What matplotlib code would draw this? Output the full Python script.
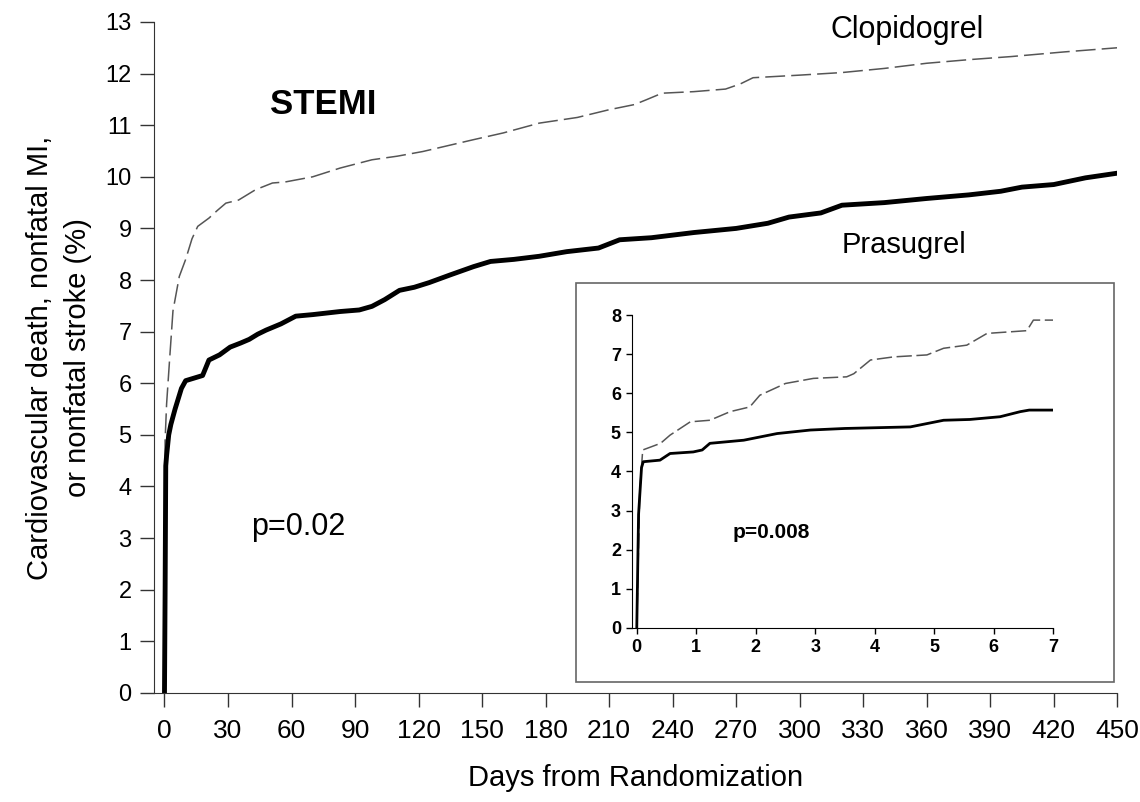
import matplotlib.pyplot as plt
from matplotlib.patches import Rectangle

plt.rcParams['font.family'] = ['Liberation Sans', 'DejaVu Sans']

# -------------------------------------------------
# Main panel data (days, %)
# -------------------------------------------------
pras_days = [0, 0.3, 0.6, 1, 2, 3, 5, 8, 10, 14, 18, 21, 26, 31, 36, 40, 44, 48, 55, 62,
             70, 83, 92, 98, 104, 111, 118, 125, 135, 146, 154, 165, 177, 190, 205, 215,
             230, 250, 270, 285, 295, 310, 320, 340, 360, 380, 395, 405, 420, 435, 450]
pras_vals = [0, 2.0, 4.4, 4.6, 5.0, 5.2, 5.5, 5.9, 6.05, 6.1, 6.15, 6.45, 6.55, 6.7, 6.78,
             6.85, 6.95, 7.03, 7.15, 7.3, 7.33, 7.39, 7.42, 7.49, 7.62, 7.8, 7.86, 7.95,
             8.1, 8.26, 8.36, 8.4, 8.46, 8.55, 8.62, 8.78, 8.82, 8.92, 9.0, 9.1, 9.22, 9.3,
             9.45, 9.5, 9.58, 9.65, 9.72, 9.8, 9.85, 9.98, 10.07]

clop_days = [0, 0.3, 1, 2.4, 4, 7, 10, 13, 15.7, 21, 25, 29, 35, 43, 51, 57, 70, 83,
             98, 110, 122, 146, 160, 177, 195, 210, 222, 228, 235, 250, 265, 272, 278,
             300, 320, 340, 360, 380, 400, 425, 450]
clop_vals = [0, 4.9, 5.6, 6.45, 7.4, 8.07, 8.4, 8.8, 9.04, 9.2, 9.35, 9.49, 9.55, 9.75,
             9.88, 9.9, 10.0, 10.17, 10.33, 10.4, 10.49, 10.72, 10.85, 11.04, 11.15,
             11.3, 11.4, 11.5, 11.62, 11.65, 11.7, 11.8, 11.92, 11.97, 12.02, 12.1,
             12.2, 12.27, 12.33, 12.42, 12.5]

# -------------------------------------------------
# Inset data (first 7 days, %)
# -------------------------------------------------
ins_pras_days = [0, 0.03, 0.08, 0.11, 0.39, 0.56, 0.95, 1.1, 1.23, 1.8, 2.36, 2.92,
                 3.5, 4.6, 5.16, 5.6, 6.11, 6.45, 6.6, 7.0]
ins_pras_vals = [0, 2.9, 4.1, 4.25, 4.29, 4.46, 4.5, 4.55, 4.72, 4.8, 4.97, 5.06,
                 5.1, 5.14, 5.31, 5.33, 5.4, 5.53, 5.57, 5.57]

ins_clop_days = [0, 0.05, 0.1, 0.4, 0.56, 0.9, 1.23, 1.57, 1.9, 2.07, 2.5, 2.97, 3.53,
                 3.65, 3.93, 4.32, 4.88, 5.16, 5.55, 5.89, 6.56, 6.67, 7.0]
ins_clop_vals = [0, 3.5, 4.55, 4.72, 4.93, 5.27, 5.31, 5.53, 5.65, 5.95, 6.25, 6.38,
                 6.42, 6.5, 6.85, 6.93, 6.98, 7.15, 7.23, 7.53, 7.6, 7.87, 7.87]

x_ticks = list(range(0, 451, 30))
y_ticks = list(range(0, 14))
ins_x_ticks = list(range(0, 8))
ins_y_ticks = list(range(0, 9))

fig = plt.figure(figsize=(11.4, 8.02), dpi=100)
ax = fig.add_axes([0.135, 0.136, 0.845, 0.8366])

ax.plot(clop_days, clop_vals, color='#555555', lw=1.1, linestyle=(0, (13, 4)))
ax.plot(pras_days, pras_vals, color='black', lw=3.5, solid_joinstyle='round')

ax.set_xlim(-5, 450)
ax.set_ylim(0, 13)
ax.set_xticks(x_ticks)
ax.set_yticks(y_ticks)
ax.tick_params(direction='out', length=10, width=1, color='#333333')
ax.tick_params(axis='x', labelsize=19, pad=9)
ax.tick_params(axis='y', labelsize=17, pad=6)
for s in ['top', 'right']:
    ax.spines[s].set_visible(False)
for s in ['left', 'bottom']:
    ax.spines[s].set_color('#333333')
ax.set_xlabel('Days from Randomization', fontsize=21, labelpad=15)
ax.set_ylabel('Cardiovascular death, nonfatal MI,\nor nonfatal stroke (%)', fontsize=21,
              labelpad=10, linespacing=1.45)

ax.text(75, 11.4, 'STEMI', fontsize=25, fontweight='bold', ha='center', va='center')
ax.text(350.7, 12.85, 'Clopidogrel', fontsize=22, ha='center', va='center')
ax.text(349.3, 8.68, 'Prasugrel', fontsize=21, ha='center', va='center')
ax.text(63, 3.22, 'p=0.02', fontsize=22, ha='center', va='center')

# inset frame
fig.patches.append(Rectangle((0.505, 0.1496), 0.472, 0.4974, transform=fig.transFigure,
                             fill=False, edgecolor='#666666', lw=1.2))

axi = fig.add_axes([0.5544, 0.2170, 0.3693, 0.3902])
axi.plot(ins_clop_days, ins_clop_vals, color='#555555', lw=1.1, linestyle=(0, (10, 3)))
axi.plot(ins_pras_days, ins_pras_vals, color='black', lw=2.0)
axi.set_xlim(-0.08, 7)
axi.set_ylim(0, 8)
axi.set_xticks(ins_x_ticks)
axi.set_yticks(ins_y_ticks)
axi.tick_params(labelsize=13, direction='out', length=4, width=1, pad=4)
for lab in axi.get_xticklabels() + axi.get_yticklabels():
    lab.set_fontweight('bold')
for s in ['top', 'right']:
    axi.spines[s].set_visible(False)
axi.text(2.27, 2.45, 'p=0.008', fontsize=15, fontweight='bold', ha='center', va='center')

fig.savefig('out.png', dpi=100)
